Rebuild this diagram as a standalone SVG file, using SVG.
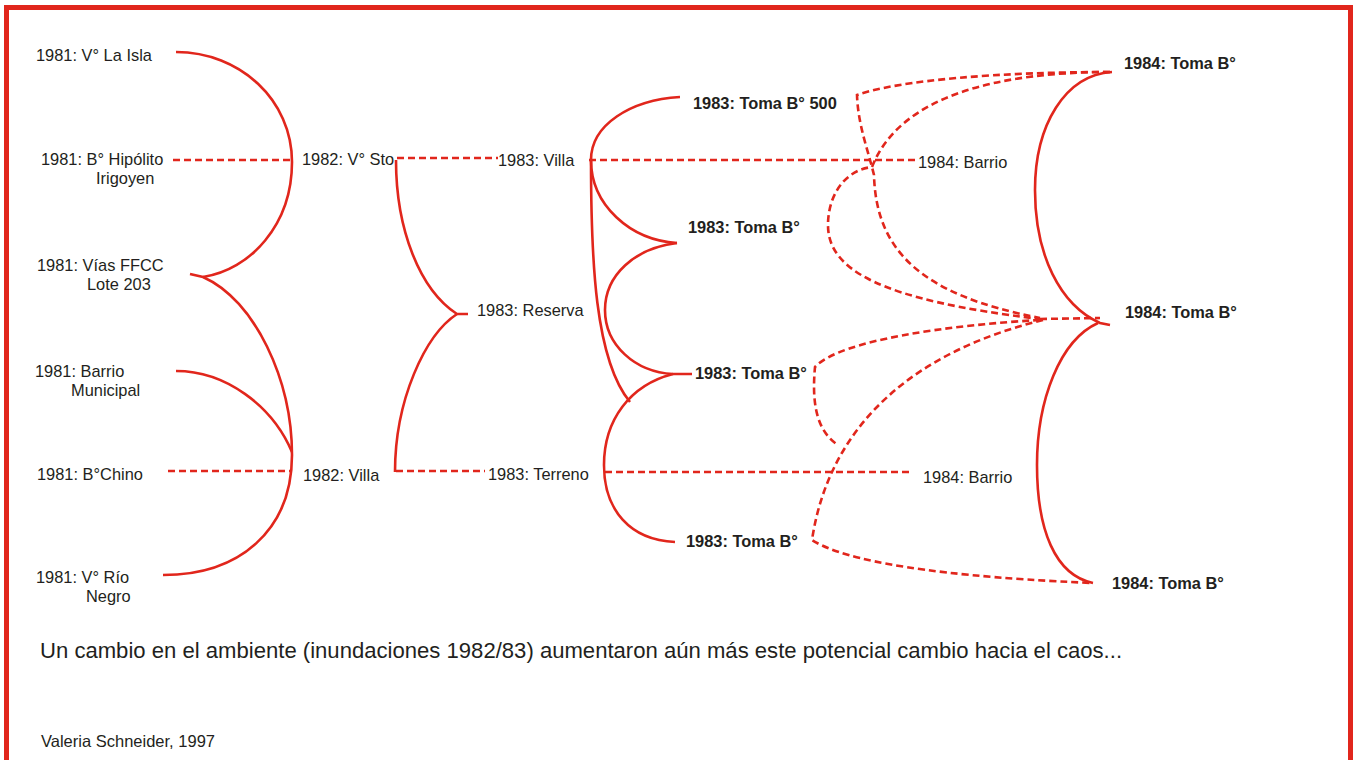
<svg xmlns="http://www.w3.org/2000/svg" width="1356" height="760" viewBox="0 0 1356 760">
  <style>
    .t{font-family:"Liberation Sans",Arial,sans-serif;font-size:16.4px;fill:#231f20}
    .b{font-weight:bold}
    .big{font-size:22.1px}
    .sm{font-size:16.5px}
    .s{fill:none;stroke:#e1261c;stroke-width:2.6}
    .d{fill:none;stroke:#e1261c;stroke-width:2.6;stroke-dasharray:7 4}
  </style>
  <rect x="0" y="0" width="1356" height="760" fill="#ffffff"/>
  <rect x="6.5" y="7.5" width="1344" height="820" fill="none" stroke="#e1261c" stroke-width="5"/>

  <g id="connectors">
    <!-- 1981 -> 1982 -->
    <path class="s" d="M176,52 C240,52 292,100 292,162 C292,225 250,270 203,277"/>
    <path class="s" d="M190,274 L203,277 C255,300 292,380 292,455 C292,530 240,575 163,575"/>
    <path class="s" d="M176,371 C225,371 272,405 292,452"/>
    <path class="d" d="M173,160 H291"/>
    <path class="d" d="M168,471 H290"/>
    <!-- 1982 -> 1983 -->
    <path class="s" d="M396,160 C396,230 420,290 457,314 L468,314"/>
    <path class="s" d="M457,314 C425,335 395,400 395,472"/>
    <path class="d" d="M397,158 H498"/>
    <path class="d" d="M396,471 H485"/>
    <!-- 1983 column -->
    <path class="s" d="M680,97 C630,100 591,125 591,160"/>
    <path class="s" d="M591,160 C591,205 630,240 677,243"/>
    <path class="s" d="M591,160 C591,260 595,360 630,402"/>
    <path class="s" d="M677,243 C635,248 605,275 605,310 C605,345 635,372 673,374 L692,374"/>
    <path class="s" d="M673,374 C630,385 604,420 604,465 C604,510 630,540 675,542"/>
    <path class="d" d="M589,160 H918"/>
    <path class="d" d="M605,472 H912"/>
    <!-- 1984 column solid -->
    <path class="s" d="M1112,72 C1065,75 1035,125 1035,190 C1035,255 1060,305 1100,323 L1110,325"/>
    <path class="s" d="M1098,323 C1060,340 1037,400 1037,465 C1037,530 1055,575 1093,583"/>
    <!-- dashed 1983 -> 1984 -->
    <path class="d" d="M1110,72 C1000,72 900,80 857,95 C858,125 868,150 874,175 C876,250 920,295 1040,318"/>
    <path class="d" d="M1110,72 C1000,72 900,95 872,167 C845,170 828,195 828,225 C828,270 880,300 1040,319"/>
    <path class="d" d="M1040,320 C950,325 840,340 815,367 C812,400 815,430 838,445"/>
    <path class="d" d="M1043,320 C920,350 830,420 812,540 C835,555 900,575 1093,583"/>
    <path class="d" d="M1040,319 L1100,318"/>
  </g>

  <g id="n1981-la-isla"><text class="t" x="36" y="61">1981: V° La Isla</text></g>
  <g id="n1981-hipolito"><text class="t" x="41" y="165">1981: B° Hipólito</text><text class="t" x="96" y="184">Irigoyen</text></g>
  <g id="n1981-vias"><text class="t" x="37" y="271">1981: Vías FFCC</text><text class="t" x="87" y="290">Lote 203</text></g>
  <g id="n1981-barrio"><text class="t" x="35" y="377">1981: Barrio</text><text class="t" x="71" y="396">Municipal</text></g>
  <g id="n1981-chino"><text class="t" x="37" y="480">1981: B°Chino</text></g>
  <g id="n1981-rio"><text class="t" x="36" y="583">1981: V° Río</text><text class="t" x="86" y="602">Negro</text></g>

  <g id="n1982-sto"><text class="t" x="302" y="165">1982: V° Sto</text></g>
  <g id="n1982-villa"><text class="t" x="303" y="481">1982: Villa</text></g>

  <g id="n1983-villa"><text class="t" x="498" y="166">1983: Villa</text></g>
  <g id="n1983-reserva"><text class="t" x="477" y="316">1983: Reserva</text></g>
  <g id="n1983-terreno"><text class="t" x="488" y="480">1983: Terreno</text></g>
  <g id="n1983-toma500"><text class="t b" x="693" y="109">1983: Toma B° 500</text></g>
  <g id="n1983-toma2"><text class="t b" x="688" y="233">1983: Toma B°</text></g>
  <g id="n1983-toma3"><text class="t b" x="695" y="379">1983: Toma B°</text></g>
  <g id="n1983-toma4"><text class="t b" x="686" y="547">1983: Toma B°</text></g>

  <g id="n1984-barrio1"><text class="t" x="918" y="168">1984: Barrio</text></g>
  <g id="n1984-barrio2"><text class="t" x="923" y="483">1984: Barrio</text></g>
  <g id="n1984-toma1"><text class="t b" x="1124" y="69">1984: Toma B°</text></g>
  <g id="n1984-toma2"><text class="t b" x="1125" y="318">1984: Toma B°</text></g>
  <g id="n1984-toma3"><text class="t b" x="1112" y="589">1984: Toma B°</text></g>

  <g id="caption">
    <text class="t big" x="40" y="658">Un cambio en el ambiente (inundaciones 1982/83) aumentaron aún más este potencial cambio hacia el caos...</text>
    <text class="t sm" x="41" y="747">Valeria Schneider, 1997</text>
  </g>
</svg>
